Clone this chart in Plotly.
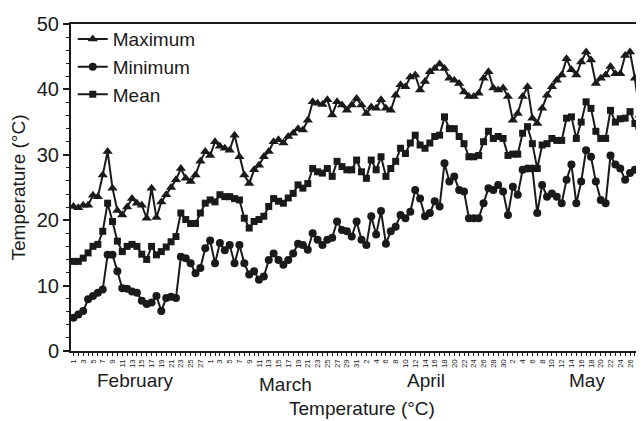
import plotly.graph_objects as go

# Day-of-month labels, 1 Feb .. 30 May
feb_days = list(range(1, 29))
mar_days = list(range(1, 32))
apr_days = list(range(1, 31))
may_days = list(range(1, 31))
day_labels = feb_days + mar_days + apr_days + may_days

months = ["February", "March", "April", "May"]
month_pos = [12.8, 43.4, 72.2, 105.2]
month_y = [-0.09, -0.103, -0.09, -0.09]

t_max = [22.1, 21.9, 22.3, 22.3, 23.8, 23.6, 26.9, 30.5, 24.9, 21.5, 20.8, 22.0, 23.3, 22.6, 22.3, 20.3, 24.9, 20.4,
         22.8, 23.9, 25.0, 26.2, 27.9, 26.4, 25.9, 26.9, 29.0, 30.5, 29.9, 32.0, 31.3, 31.0, 30.7, 33.0, 29.7, 26.9,
         25.6, 27.7, 28.4, 29.7, 30.5, 32.0, 32.3,
         31.8, 32.8, 33.3, 34.0, 33.8, 35.3, 38.1, 37.9, 37.7, 38.4, 36.1, 38.1, 37.6, 36.8, 37.6, 38.6, 37.6, 36.3,
         37.3, 37.1, 38.4, 37.1, 36.8,
         39.1, 40.7, 40.4, 41.9, 42.2, 39.9, 41.2, 42.7, 43.2, 43.9,
         43.2, 41.7, 41.4, 40.9, 39.6, 38.9, 38.9, 39.4, 41.7, 42.7, 40.2, 39.9, 40.2, 38.9, 35.3, 36.3, 38.9, 40.4,
         35.6, 34.8, 37.1, 39.1, 40.4, 41.4, 42.2, 44.7, 43.0, 42.2, 44.2, 45.7, 44.5, 40.9, 41.7, 42.2, 43.5, 42.4,
         42.4, 45.2, 45.7, 41.7, 36.1, 39.9, 39.1]

t_min = [5.1, 5.6, 6.1, 7.9, 8.4, 8.9, 9.4, 14.7, 14.7, 12.2, 9.6, 9.5, 9.1, 8.9, 7.7, 7.2, 7.4, 8.4,
         6.1, 8.1, 8.3, 8.1, 14.4, 14.2, 13.4, 11.9, 12.7, 15.7, 16.9, 13.4, 16.5, 15.4, 16.2, 13.4, 16.2, 13.4,
         11.7, 12.2, 10.9, 11.4, 13.9, 14.9, 13.9,
         13.2, 13.9, 14.9, 16.4, 16.2, 15.5, 18.0, 17.0, 16.2, 17.0, 17.3, 19.8, 18.5, 18.3, 17.5, 19.8, 17.0, 16.2,
         20.6, 17.8, 21.4, 16.4, 18.3,
         19.0, 20.8, 20.3, 21.3, 24.6, 23.3, 20.6, 21.1, 22.9, 22.1,
         28.7, 25.9, 26.7, 24.6, 24.4, 20.3, 20.3, 20.3, 22.6, 24.9, 24.6, 25.4, 24.4, 20.8, 25.1, 23.9, 27.7, 27.9,
         27.9, 21.1, 25.4, 23.6, 24.1, 23.6, 22.6, 26.2, 28.5, 22.6, 25.9, 30.7, 29.7, 25.9, 23.1, 22.6, 29.9, 28.5,
         27.9, 26.2, 27.2, 27.7, 28.2, 26.9, 23.3]

t_mean = [13.7, 13.7, 14.2, 15.0, 16.0, 16.3, 18.3, 22.6, 19.8, 16.8, 15.2, 16.0, 16.3, 16.0, 14.8, 14.0, 16.0, 14.7,
          15.2, 15.9, 16.7, 17.5, 21.1, 20.1, 19.5, 19.5, 21.1, 22.6, 23.1, 22.8, 23.9, 23.6, 23.6, 23.3, 23.1, 20.3,
          18.8, 19.8, 20.1, 20.6, 22.1, 23.3, 22.9,
          22.6, 23.4, 24.1, 25.4, 24.9, 25.6, 27.9, 27.4, 27.2, 27.9, 26.7, 29.0, 28.2, 27.7, 27.7, 29.2, 27.4, 26.4,
          29.2, 27.7, 29.7, 26.7, 27.9,
          29.0, 31.0, 30.2, 31.8, 33.0, 31.5, 31.0, 31.8, 32.8, 33.0,
          35.8, 34.0, 34.0, 32.8, 31.7, 29.7, 29.7, 29.9, 32.0, 33.6, 32.5, 32.8, 32.5, 29.9, 30.1, 30.1, 33.3, 34.3,
          31.7, 27.9, 31.5, 31.7, 32.5, 32.2, 32.2, 35.6, 35.8, 32.5, 35.0, 38.1, 37.1, 33.6, 32.5, 32.5, 36.8, 35.0,
          35.5, 35.6, 36.6, 34.8, 32.2, 32.8, 31.2]

x = list(range(len(day_labels)))
tick_text = [str(d) if i % 2 == 0 else "" for i, d in enumerate(day_labels)]

FONT = "Liberation Sans, Arial, sans-serif"
INK = "#1a1a1a"
fig = go.Figure()
series = [("Maximum", t_max, "triangle-up", 9),
          ("Minimum", t_min, "circle", 8),
          ("Mean", t_mean, "square", 7)]
for name, vals, sym, sz in series:
    fig.add_trace(go.Scatter(x=x, y=vals, mode="lines+markers", name=name,
                             line=dict(color=INK, width=2),
                             marker=dict(symbol=sym, size=sz, color=INK)))

for m, p, yy in zip(months, month_pos, month_y):
    fig.add_annotation(x=p, y=yy, xref="x", yref="paper", text=m, showarrow=False,
                       font=dict(size=19, color=INK, family=FONT), yanchor="middle")
fig.add_annotation(x=0.5, y=-0.176, xref="paper", yref="paper", text="Temperature (°C)", showarrow=False,
                   font=dict(size=19, color=INK, family=FONT), yanchor="middle")

fig.update_layout(
    width=644, height=421,
    margin=dict(l=63, r=0, t=16, b=78),
    paper_bgcolor="white", plot_bgcolor="white",
    font=dict(family=FONT, color=INK),
    showlegend=True,
    legend=dict(x=0.003, y=1.012, xanchor="left", yanchor="top", bgcolor="rgba(0,0,0,0)",
                font=dict(size=19, family=FONT, color=INK), itemwidth=30, tracegroupgap=0),
    xaxis=dict(range=[-0.5, 118.5], tickmode="array", tickvals=x, ticktext=tick_text,
               tickangle=-90, tickfont=dict(size=8, family=FONT), ticks="outside", ticklen=3,
               tickwidth=1, tickcolor=INK, showline=True, linecolor=INK, linewidth=2,
               mirror=True, showgrid=False, zeroline=False),
    yaxis=dict(range=[0, 50], dtick=10, ticks="outside", ticklen=6, tickwidth=1.5, tickcolor=INK,
               tickfont=dict(size=20, family=FONT),
               minor=dict(dtick=2, ticks="outside", ticklen=3, tickcolor=INK, tickwidth=1),
               showline=True, linecolor=INK, linewidth=2, showgrid=False, zeroline=False,
               title=dict(text="Temperature (°C)", font=dict(size=19, family=FONT), standoff=6)),
)
fig.write_html("out.html")
